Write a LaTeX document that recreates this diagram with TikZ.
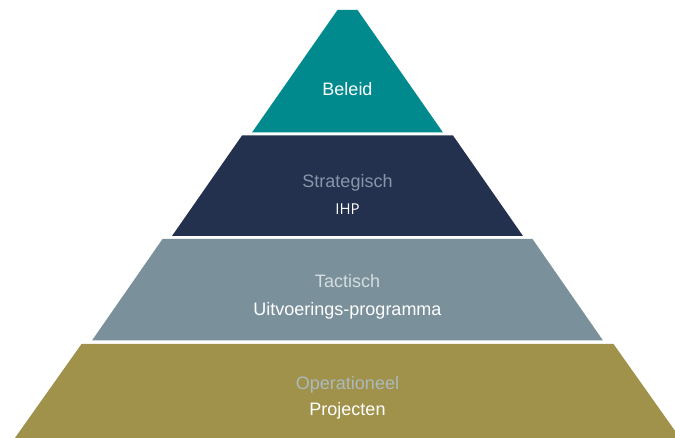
\documentclass[tikz,border=0pt]{standalone}
\usepackage{fontspec}
\setmainfont{Liberation Sans}
\newfontfamily\ihpfont{Open Sans}
\usepackage{tikz}
\usetikzlibrary{positioning}
\definecolor{beleidteal}{RGB}{0,138,142}
\definecolor{stratnavy}{RGB}{35,48,78}
\definecolor{tactgrey}{RGB}{122,144,155}
\definecolor{operolive}{RGB}{160,146,74}
\definecolor{stratlabel}{RGB}{135,150,168}
\definecolor{tactlabel}{RGB}{213,221,225}
\definecolor{operlabel}{RGB}{172,186,190}
\tikzset{
  tier/.style={draw=none},
  lvl/.style={anchor=base, font=\fontsize{18}{20}\selectfont},
  sub/.style={anchor=base, font=\fontsize{18}{20}\selectfont, text=white},
}

\begin{document}
\begin{tikzpicture}[x=1pt, y=-1pt]
    \useasboundingbox (0,0) rectangle (675,438);
    \clip (0,0) rectangle (675,438);
    % pyramid tiers, centred on x = 347.5
    \fill[tier, beleidteal] (337.5,10) -- (357.5,10) -- (443,132.5) -- (252,132.5) -- cycle;
    \fill[tier, stratnavy] (242,135.5) -- (453,135.5) -- (523,236) -- (172,236) -- cycle;
    \fill[tier, tactgrey] (162.5,239) -- (532.5,239) -- (603,340.5) -- (92,340.5) -- cycle;
    \fill[tier, operolive] (81.5,344) -- (613.5,344) -- (681.5,440) -- (13.5,440) -- cycle;
    % labels
    \node[sub] (beleid) at (347.5,95.5) {Beleid};
    \node[lvl, text=stratlabel] (strat) at (347.5,187.5) {Strategisch};
    \node[anchor=base, text=white, font=\ihpfont\fontsize{15}{17}\selectfont] (ihp) at (347.5,215) {IHP};
    \node[lvl, text=tactlabel] (tact) at (347.5,287.5) {Tactisch};
    \node[sub] (uitv) at (347.5,315.5) {Uitvoerings-programma};
    \node[lvl, text=operlabel] (oper) at (347.5,389) {Operationeel};
    \node[sub] (proj) at (347.5,415.5) {Projecten};
  \end{tikzpicture}
\end{document}
